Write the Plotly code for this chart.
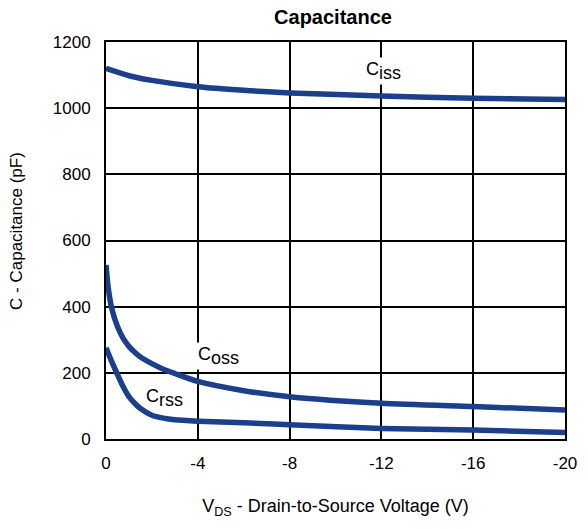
import plotly.graph_objects as go

# Capacitance vs drain-to-source voltage (values in pF)
ciss_vds = [0, -1, -2, -4, -6, -8, -12, -16, -20]
ciss_pf = [1120, 1098, 1084, 1065, 1054, 1046, 1037, 1030, 1026]

coss_vds = [0, -0.1, -0.25, -0.5, -0.75, -1, -1.25, -1.5, -2, -2.5, -3, -4, -6, -8, -12, -16, -20]
coss_pf = [526, 455, 395, 340, 304, 280, 262, 248, 228, 211, 198, 174, 146, 128, 108, 98, 88]

crss_vds = [0, -0.25, -0.5, -0.75, -1, -1.25, -1.5, -2, -2.5, -3, -4, -6, -8, -12, -16, -20]
crss_pf = [276, 234, 195, 158, 128, 108, 92, 72, 63, 58, 54, 49, 43, 32, 27, 20]

x_ticks = [0, -4, -8, -12, -16, -20]
x_tick_text = ["0", "-4", "-8", "-12", "-16", "-20"]
y_ticks = [0, 200, 400, 600, 800, 1000, 1200]
y_tick_text = ["0", "200", "400", "600", "800", "1000", "1200"]

LINE_COLOR = "#1B3F8B"
FONT = "Liberation Sans, Arial, sans-serif"

fig = go.Figure()
for xs, ys in [(ciss_vds, ciss_pf), (coss_vds, coss_pf), (crss_vds, crss_pf)]:
    fig.add_trace(go.Scatter(
        x=xs, y=ys, mode="lines",
        line=dict(color=LINE_COLOR, width=5.5, shape="spline", smoothing=0.7),
        showlegend=False, hoverinfo="skip",
    ))


def cap_label(sub):
    # subscript kept at full size, only shifted below the baseline
    return 'C<sub><span style="font-size:18px">' + sub + "</span></sub>"


label_font = dict(family=FONT, size=18, color="black")
fig.add_annotation(x=-12.07, y=1112, text=cap_label("iss"), showarrow=False,
                   font=label_font, bgcolor="white", borderpad=1)
fig.add_annotation(x=-4, y=252, text=cap_label("oss"), showarrow=False,
                   xanchor="left", xshift=-2,
                   font=label_font, bgcolor="white", borderpad=1)
fig.add_annotation(x=-2.57, y=125, text=cap_label("rss"), showarrow=False,
                   font=label_font)

# vertical axis title
fig.add_annotation(xref="paper", yref="paper", x=-0.194, y=0.524,
                   xanchor="center", yanchor="middle",
                   text="C - Capacitance (pF)", textangle=-90, showarrow=False,
                   font=dict(family=FONT, size=17, color="black"))

axis_common = dict(
    showgrid=True, gridcolor="black", gridwidth=2,
    showline=True, linecolor="black", linewidth=2, mirror=True,
    zeroline=False,
    ticks="outside", tickcolor="rgba(0,0,0,0)",
    tickfont=dict(family=FONT, size=17, color="black"),
)

fig.update_xaxes(
    range=[0, -20], tickvals=x_ticks, ticktext=x_tick_text, ticklen=8,
    title=dict(text="V<sub>DS</sub> - Drain-to-Source Voltage (V)",
               font=dict(family=FONT, size=18, color="black"), standoff=27),
    **axis_common,
)
fig.update_yaxes(
    range=[0, 1200], tickvals=y_ticks, ticktext=y_tick_text, ticklen=10,
    **axis_common,
)

fig.update_layout(
    width=588, height=529,
    margin=dict(l=106, r=23, t=42, b=90),
    paper_bgcolor="white", plot_bgcolor="white",
    title=dict(text="<b>Capacitance</b>", x=(333 / 588), xanchor="center",
               y=1 - 17 / 529, yanchor="middle",
               font=dict(family=FONT, size=20, color="black")),
)

fig.write_html("out.html")
